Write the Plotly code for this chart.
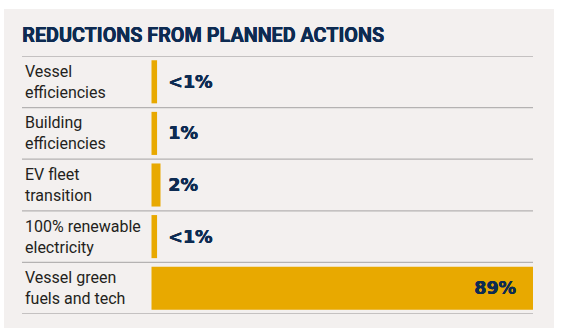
import plotly.graph_objects as go

title_text = "REDUCTIONS FROM PLANNED ACTIONS"
categories = ["Vessel<br>efficiencies", "Building<br>efficiencies", "EV fleet<br>transition",
              "100% renewable<br>electricity", "Vessel green<br>fuels and tech"]
bar_values = [1.3, 1.3, 2.1, 1.3, 89]
value_labels = ["<1%", "1%", "2%", "<1%", "89%"]

NAVY = "#0d2b52"
GOLD = "#e8a900"
PANEL = "#f3f0ef"
RULE = "#b4b2b2"

W, H = 563, 330
ML, MR, MT, MB = 22, 30, 56, 16
pw, ph = W - ML - MR, H - MT - MB

ypos = list(range(len(categories)))

fig = go.Figure(go.Bar(
    y=ypos, x=bar_values, orientation="h",
    marker=dict(color=GOLD, line=dict(width=0)),
    hoverinfo="skip",
))

# x axis: zero sits at the bar base, ~129.5 px right of the plot's left edge
px_per_unit = (pw - 129.5) / max(bar_values)
fig.update_xaxes(range=[-129.5 / px_per_unit, max(bar_values)], visible=False, fixedrange=True)
fig.update_yaxes(range=[len(categories) - 0.5, -0.5], visible=False, fixedrange=True)

shapes = []
# panel background
shapes.append(dict(type="rect", xref="paper", yref="paper",
                   x0=(4 - ML) / pw, x1=(554 - ML) / pw,
                   y0=(MT + ph - 328) / ph, y1=(MT + ph - 9) / ph,
                   fillcolor=PANEL, line=dict(width=0), layer="below"))
# row separators
for i in range(len(categories) + 1):
    shapes.append(dict(type="line", xref="paper", yref="y", x0=0, x1=1,
                       y0=i - 0.5, y1=i - 0.5, line=dict(color=RULE, width=1.3), layer="above"))

heavy = f"0.5px 0 0 {NAVY}, 0.25px 0 0 {NAVY}"
annotations = [dict(text=title_text, xref="paper", yref="paper", x=0, xshift=-2,
                    y=(MT + ph - 35.5) / ph, xanchor="left", yanchor="middle", showarrow=False,
                    font=dict(family="Roboto", size=19.8, color=NAVY, weight="bold", shadow=heavy))]
for i, (c, v, lab) in enumerate(zip(categories, bar_values, value_labels)):
    annotations.append(dict(text=c, xref="paper", yref="y", x=0, y=i, xshift=1,
                            xanchor="left", yanchor="middle", align="left", showarrow=False,
                            font=dict(family="Roboto", size=16, color="#231f20")))
    inside = v > 0.5 * max(bar_values)
    annotations.append(dict(text=lab, xref="x", yref="y",
                            x=v if inside else 0, y=i,
                            xanchor="right" if inside else "left",
                            xshift=-15 if inside else 14.5,
                            yanchor="middle", showarrow=False,
                            font=dict(family="DejaVu Sans", size=17.5, color=NAVY, weight="bold",
                                      shadow=heavy)))

fig.update_layout(
    width=W, height=H, margin=dict(l=ML, r=MR, t=MT, b=MB),
    paper_bgcolor="white", plot_bgcolor="rgba(0,0,0,0)",
    bargap=0.165, showlegend=False,
    shapes=shapes, annotations=annotations,
)

fig.write_html("out.html", config={"displayModeBar": False})
